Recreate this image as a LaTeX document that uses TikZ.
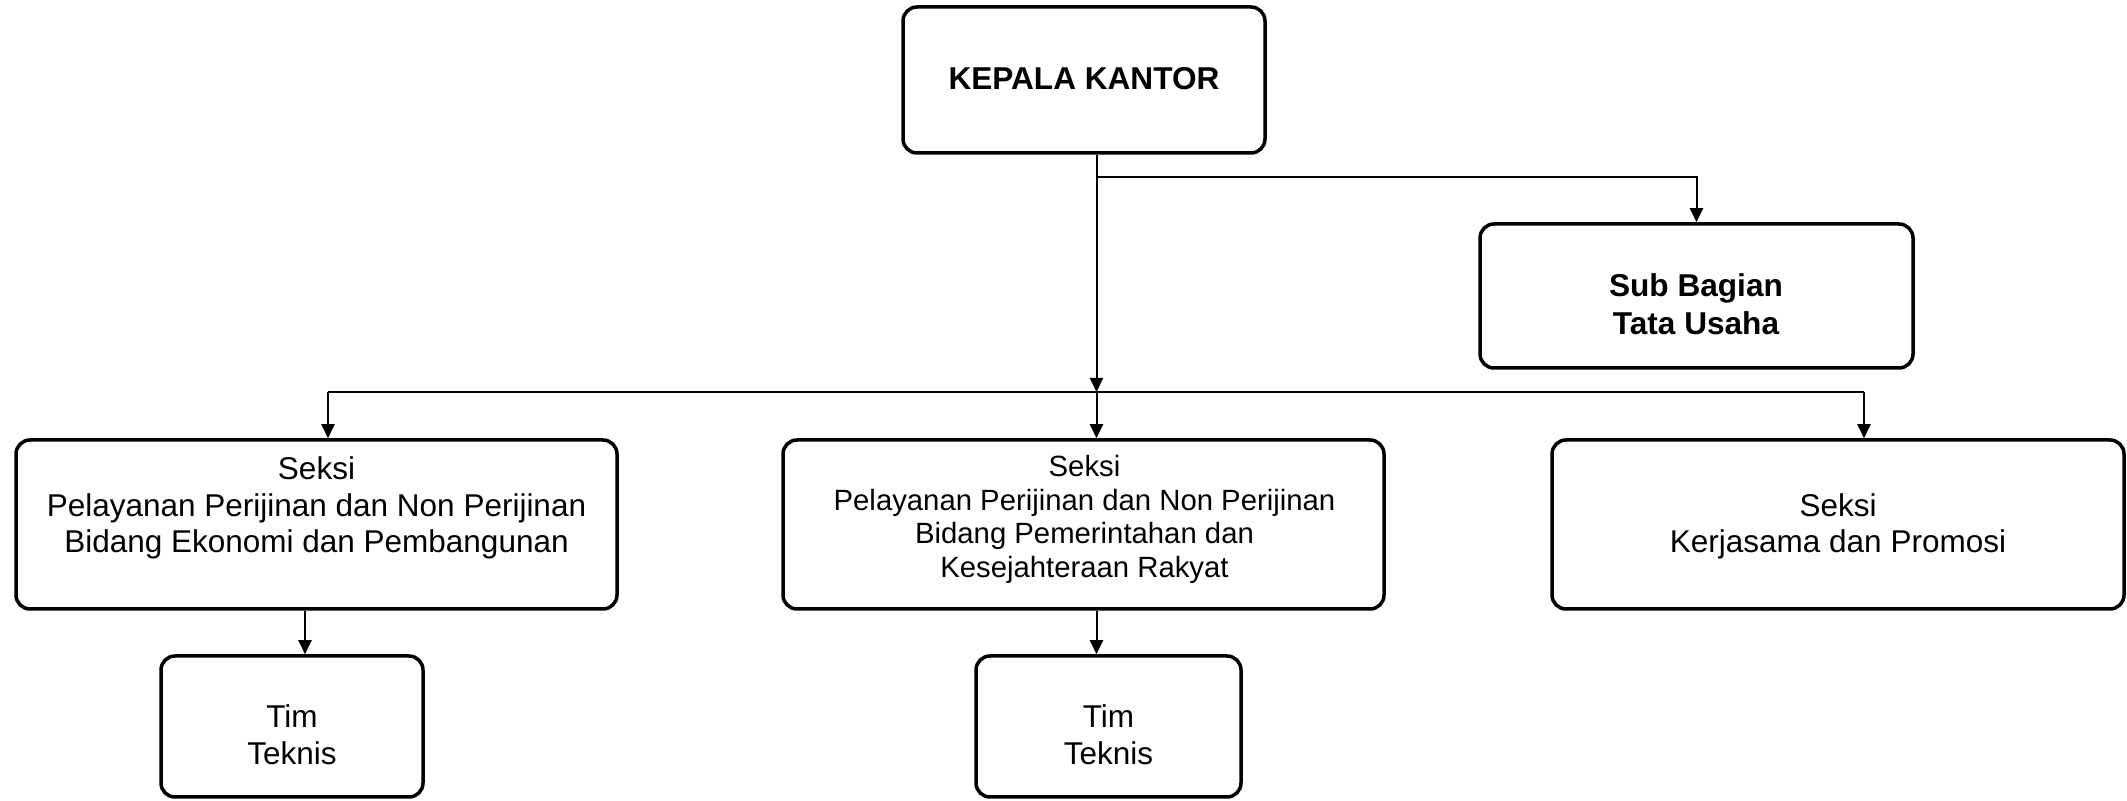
\documentclass[tikz,border=0pt]{standalone}
\usepackage{fontspec}
\setmainfont{Liberation Sans}
\usetikzlibrary{arrows.meta}
\begin{document}
\begin{tikzpicture}[x=0.5pt,y=-0.5pt,
  box/.style={draw=black,line width=1.75pt,rounded corners=7pt,inner sep=0pt},
  txt/.style={align=center,inner sep=0pt,font=\fontsize{15.75pt}{18.3pt}\selectfont},
  txtsm/.style={align=center,inner sep=0pt,font=\fontsize{14.65pt}{16.85pt}\selectfont},
  txtb/.style={align=center,inner sep=0pt,font=\fontsize{15.8pt}{19pt}\selectfont\bfseries},
  conn/.style={draw=black,line width=1pt},
  arr/.style={conn,-{Triangle[length=7pt,width=6.5pt]}}]
\useasboundingbox (0,0) rectangle (2127,801);
% boxes
\node[box,minimum width=181pt,minimum height=73pt] (kepala) at (1084,80) {};
\node[box,minimum width=216.5pt,minimum height=72pt] (sub) at (1696.5,296) {};
\node[box,minimum width=300.5pt,minimum height=84.5pt] (s1) at (316.5,524.5) {};
\node[box,minimum width=300.5pt,minimum height=84.5pt] (s2) at (1083.5,524.5) {};
\node[box,minimum width=286pt,minimum height=84.5pt] (s3) at (1838,524.5) {};
\node[box,minimum width=131pt,minimum height=70.5pt] (t1) at (292,726.5) {};
\node[box,minimum width=132.5pt,minimum height=70.5pt] (t2) at (1108.5,726.5) {};
% texts
\node[txtb] (kepalatxt) at (1084,79) {KEPALA KANTOR};
\node[txtb] (subtxt) at (1696,304) {Sub Bagian\\Tata Usaha};
\node[txt] (s1txt) at (316.5,508) {Seksi\\Pelayanan Perijinan dan Non Perijinan\\Bidang Ekonomi dan Pembangunan};
\node[txtsm] (s2txt) at (1084.5,519.5) {Seksi\\Pelayanan Perijinan dan Non Perijinan\\Bidang Pemerintahan dan\\Kesejahteraan Rakyat};
\node[txt] (s3txt) at (1838,526.5) {Seksi\\Kerjasama dan Promosi};
\node[txt] (t1txt) at (292,735) {Tim\\Teknis};
\node[txt] (t2txt) at (1108.5,735) {Tim\\Teknis};
% junctions
\coordinate (j0) at (1096.5,177);
\coordinate (bus) at (1096.5,392);
\coordinate (l1) at (328,392);
\coordinate (r1) at (1864,392);
\coordinate (c1) at (305,0);
\coordinate (c2) at (1096.5,0);
% connectors
\draw[arr] (kepala.south -| bus) -- (bus);
\draw[arr] (bus) -- (bus |- s2.north);
\draw[arr] (j0) -| (sub.north);
\draw[conn] (l1) -- (r1);
\draw[arr] (l1) -- (l1 |- s1.north);
\draw[arr] (r1) -- (r1 |- s3.north);
\draw[arr] (s1.south -| c1) -- (t1.north -| c1);
\draw[arr] (s2.south -| c2) -- (t2.north -| c2);
\end{tikzpicture}
\end{document}
